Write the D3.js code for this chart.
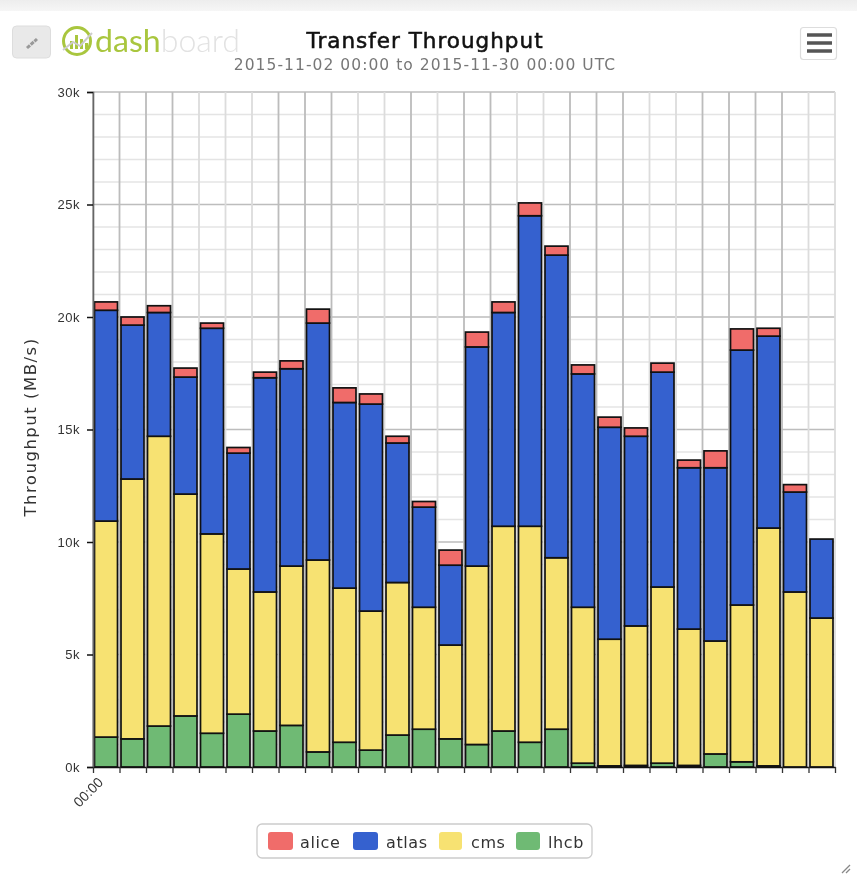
<!DOCTYPE html>
<html><head><meta charset="utf-8">
<script src="https://cdnjs.cloudflare.com/ajax/libs/d3/7.8.5/d3.min.js"></script>
<style>
html,body{margin:0;padding:0;background:#fff;overflow:hidden}
svg{display:block;font-family:"DejaVu Sans",sans-serif;filter:blur(0.75px)}
</style></head><body>
<div id="chart"></div>
<script>
const seriesNames = ["lhcb","cms","atlas","alice"];
const legendOrder = ["alice","atlas","cms","lhcb"];
const colors = {alice:"#f06c6a",atlas:"#3561cf",cms:"#f7e272",lhcb:"#6fba74"};
const startDay = "2015-11-02";
const endDay = "2015-11-30";
const alice = [0.37,0.36,0.30,0.40,0.23,0.25,0.25,0.35,0.62,0.65,0.45,0.30,0.25,0.67,0.66,0.47,0.57,0.40,0.40,0.45,0.37,0.40,0.34,0.75,0.94,0.35,0.33,0];
const atlas = [9.37,6.84,5.50,5.20,9.14,5.15,9.52,8.77,10.53,8.25,9.20,6.20,4.45,3.55,9.74,9.50,13.80,13.45,10.37,9.42,8.43,9.55,7.17,7.70,11.33,8.53,4.44,3.51];
const cms = [9.60,11.55,12.88,9.86,8.86,6.45,6.18,7.08,8.53,6.85,6.18,6.78,5.42,4.17,7.93,9.10,9.60,7.62,6.93,5.63,6.20,7.83,6.06,5.02,6.97,10.57,7.78,6.62];
const lhcb = [1.33,1.25,1.82,2.27,1.50,2.35,1.60,1.85,0.67,1.10,0.75,1.42,1.68,1.25,1.00,1.60,1.10,1.68,0.17,0.05,0.07,0.17,0.07,0.58,0.23,0.05,0,0];
const valueBySeries = {alice,atlas,cms,lhcb};
const yTickValues = [0,5,10,15,20,25,30];
const yMinorValues = [1,2,3,4,6,7,8,9,11,12,13,14,16,17,18,19,21,22,23,24,26,27,28,29];
const lightGridIndex = [4,5,6,10,11,13,16,17,21,22,27,28];
const title = "Transfer Throughput";
const subtitle = "2015-11-02 00:00 to 2015-11-30 00:00 UTC";
const yLabel = "Throughput (MB/s)";
const firstTickLabel = "00:00";

const W=857,H=875,L=93,R=835,T=92,B=767;
const svg=d3.select("#chart").append("svg").attr("width",W).attr("height",H);
const defs=svg.append("defs");
const grad=defs.append("linearGradient").attr("id","topband").attr("x1",0).attr("x2",0).attr("y1",0).attr("y2",1);
grad.append("stop").attr("offset",0).attr("stop-color","#ededed");
grad.append("stop").attr("offset",1).attr("stop-color","#f6f6f6");
svg.append("rect").attr("width",W).attr("height",11).attr("fill","url(#topband)");

const days=d3.utcDay.range(new Date(startDay+"T00:00Z"),new Date(endDay+"T00:00Z"));
const x=d3.scaleUtc().domain([new Date(startDay+"T00:00Z"),new Date(endDay+"T00:00Z")]).range([L,R]);
const y=d3.scaleLinear().domain([0,30]).range([B,T]);
const tickDates=x.ticks(d3.utcDay.every(1));

// grid
const g=svg.append("g");
g.selectAll(".ym").data(yMinorValues).join("line").attr("x1",L).attr("x2",R).attr("y1",d=>y(d)).attr("y2",d=>y(d)).attr("stroke","#e4e4e4").attr("stroke-width",1.4);
g.selectAll(".yM").data(yTickValues).join("line").attr("x1",L).attr("x2",R).attr("y1",d=>y(d)).attr("y2",d=>y(d)).attr("stroke","#bdbdbd").attr("stroke-width",1.5);
g.selectAll(".xg").data(tickDates).join("line").attr("x1",d=>x(d)).attr("x2",d=>x(d)).attr("y1",T).attr("y2",B).attr("stroke",(d,i)=>lightGridIndex.includes(i)?"#dcdcdc":"#bcbcbc").attr("stroke-width",1.8);

// bars
const rows=days.map((d,i)=>{const r={day:d};seriesNames.forEach(s=>r[s]=valueBySeries[s][i]);return r;});
const stack=d3.stack().keys(seriesNames)(rows);
const bars=svg.append("g");
stack.forEach(layer=>{
  bars.append("g").selectAll("rect").data(layer.filter(d=>d[1]-d[0]>0)).join("rect")
   .attr("x",d=>x(d.data.day)+1.5)
   .attr("width",d=>x(d3.utcDay.offset(d.data.day,1))-x(d.data.day)-3.5)
   .attr("y",d=>y(d[1]))
   .attr("height",d=>y(d[0])-y(d[1]))
   .attr("fill",colors[layer.key]).attr("stroke","#111").attr("stroke-width",1.7);
});

// axes
const yAxis=d3.axisLeft(y).tickValues(yTickValues).tickFormat(d=>d+"k").tickSize(6).tickPadding(7);
const ya=svg.append("g").attr("transform",`translate(${L},0)`).call(yAxis);
ya.select(".domain").attr("stroke","#666").attr("stroke-width",1.6);
ya.selectAll("text").attr("font-size",13).attr("letter-spacing",0.5).attr("fill","#333");
ya.selectAll(".tick line").attr("stroke","#111").attr("stroke-width",1.5);
const xAxis=d3.axisBottom(x).tickValues(tickDates).tickFormat((d,i)=>i==0?firstTickLabel:"").tickSize(6).tickSizeOuter(0);
const xa=svg.append("g").attr("transform",`translate(0,${B})`).call(xAxis);
xa.select(".domain").attr("stroke","#111").attr("stroke-width",1.7);
xa.selectAll(".tick line").attr("stroke","#333").attr("stroke-width",1.3);
xa.selectAll("text").attr("font-size",14).attr("fill","#333").attr("text-anchor","end")
  .attr("transform","rotate(-45)").attr("dx","-4").attr("dy","10");

// titles
svg.append("text").attr("x",425).attr("y",48).attr("text-anchor","middle").attr("font-size",21.5).attr("letter-spacing",1).attr("fill","#111").attr("stroke","#111").attr("stroke-width",0.55).text(title);
svg.append("text").attr("x",425).attr("y",70).attr("text-anchor","middle").attr("font-size",15.5).attr("letter-spacing",1.05).attr("fill","#777").text(subtitle);
svg.append("text").attr("transform",`translate(36,427) rotate(-90)`).attr("text-anchor","middle").attr("font-size",16.5).attr("letter-spacing",1.5).attr("fill","#333").text(yLabel);

// link button
svg.append("rect").attr("x",12.5).attr("y",26).attr("width",38).attr("height",32).attr("rx",4).attr("fill","#e9e9e9").attr("stroke","#ddd");
svg.append("line").attr("x1",27).attr("y1",48).attr("x2",37).attr("y2",39).attr("stroke","#999").attr("stroke-width",3).attr("stroke-dasharray","4 1");
// logo
const lg=svg.append("g");
lg.append("circle").attr("cx",77).attr("cy",41).attr("r",13.5).attr("fill","none").attr("stroke","#a9c63e").attr("stroke-width",3);
lg.selectAll("rect").data([[70,8],[75,14],[80,10],[85,6]]).join("rect").attr("x",d=>d[0]).attr("y",d=>49-d[1]).attr("width",3).attr("height",d=>d[1]).attr("fill","#a9c63e");
lg.append("polyline").attr("points","63,50 73,42 80,46 92,33").attr("fill","none").attr("stroke","#ccc").attr("stroke-width",2);
const lt=svg.append("text").attr("x",95).attr("y",52).attr("font-size",31).attr("textLength",145).attr("lengthAdjust","spacingAndGlyphs").attr("font-family","Lato, sans-serif").attr("font-weight",400);
lt.append("tspan").attr("fill","#a9c63e").text("dash");
lt.append("tspan").attr("fill","#e2e2e2").attr("font-weight",300).text("board");
// menu
svg.append("rect").attr("x",800.5).attr("y",27.5).attr("width",36).attr("height",32).attr("rx",3).attr("fill","#fff").attr("stroke","#ddd").attr("stroke-width",1.2);
svg.append("g").selectAll("line").data([35,43,51]).join("line").attr("x1",807).attr("x2",832).attr("y1",d=>d).attr("y2",d=>d).attr("stroke","#555").attr("stroke-width",3.5);

// legend
const leg=svg.append("g");
leg.append("rect").attr("x",257).attr("y",824).attr("width",335).attr("height",34).attr("rx",5).attr("fill","#fff").attr("stroke","#ccc").attr("stroke-width",1.3);
const lx=[268,353,439,516], tx=[300,386,471,548], lw=[25,25,23,24];
leg.selectAll("rect.k").data(legendOrder).join("rect").attr("class","k").attr("x",(d,i)=>lx[i]).attr("y",832).attr("width",(d,i)=>lw[i]).attr("height",18).attr("rx",3).attr("fill",d=>colors[d]);
leg.selectAll("text").data(legendOrder).join("text").attr("x",(d,i)=>tx[i]).attr("y",848).attr("font-size",16).attr("letter-spacing",0.6).attr("fill","#333").text(d=>d);
// resize grip
svg.append("g").selectAll("line").data([0,4]).join("line").attr("x1",d=>842+d).attr("y1",873).attr("x2",850).attr("y2",d=>865+d).attr("stroke","#888").attr("stroke-width",1.2);
</script>
</body></html>
